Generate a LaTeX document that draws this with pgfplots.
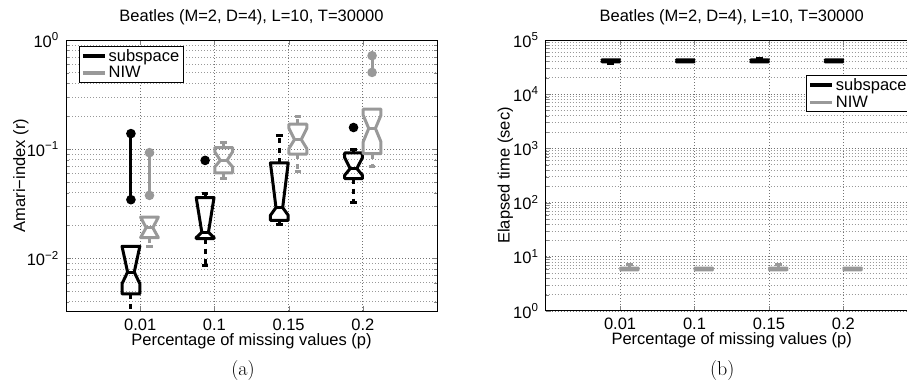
\documentclass[border=0pt]{standalone}
\usepackage{pgfplots}
\pgfplotsset{compat=1.18}
\usepackage{fontspec}
\newfontfamily\arial{Liberation Sans}
\newcommand\af{\arial\fontsize{16.5bp}{19.8bp}\selectfont}
\definecolor{niw}{gray}{0.6}
% notched box: #1 colour, #2 x, #3 q1, #4 notch low, #5 median, #6 notch high, #7 q3
\newcommand\nbox[7]{%
  \pgfmathsetmacro\bxL{#2-0.12}\pgfmathsetmacro\bxR{#2+0.12}%
  \pgfmathsetmacro\ntL{#2-0.045}\pgfmathsetmacro\ntR{#2+0.045}%
  \addplot[#1, line width=3bp, line join=round, line cap=round, forget plot] coordinates {(\bxL,#3) (\bxR,#3) (\bxR,#4) (\ntR,#5) (\bxR,#6) (\bxR,#7) (\bxL,#7) (\bxL,#6) (\ntL,#5) (\bxL,#4) (\bxL,#3)};
  \addplot[#1, line width=3bp, forget plot] coordinates {(\ntL,#5) (\ntR,#5)};
}
% whisker: #1 colour, #2 x, #3 from, #4 to
\newcommand\whisk[4]{%
  \pgfmathsetmacro\cpL{#2-0.045}\pgfmathsetmacro\cpR{#2+0.045}%
  \addplot[#1, line width=3bp, dash pattern=on 5bp off 5bp, forget plot] coordinates {(#2,#3) (#2,#4)};
  \addplot[#1, line width=3bp, forget plot] coordinates {(\cpL,#4) (\cpR,#4)};
}
% outliers: #1 colour, #2 coordinates
\newcommand\outl[2]{%
  \addplot[#1, line width=3bp, mark=*, mark size=3.2bp, mark options={solid}, forget plot] coordinates {#2};
}
\pgfplotsset{mystyle/.style={
  scale only axis, height=271bp,
  xmin=0, xmax=5,
  xtick={1,2,3,4}, xticklabels={0.01,0.1,0.15,0.2},
  tick align=inside, major tick length=5bp, minor tick length=3bp,
  axis line style={line width=1bp},
  tick label style={font=\af},
  xticklabel style={anchor=base, yshift=-19bp},
  yticklabel style={anchor=east, inner sep=0pt, xshift=-7bp},
  label style={font=\af},
  title style={font=\af, at={(0.5,1)}, anchor=base, yshift=12.5bp},
  xlabel style={at={(0.5,0)}, anchor=base, yshift=-34bp},
  legend image code/.code={\draw[##1] (0bp,0bp) -- (22bp,0bp);},
  legend style={font=\af, draw=black, line width=1bp, fill=white, inner xsep=2bp, inner ysep=1bp, row sep=0bp, cells={anchor=west}, anchor=north west},
  title={Beatles (M=2, D=4), L=10, T=30000},
  xlabel={Percentage of missing values (p)},
}}
\begin{document}
\begin{tikzpicture}
\path[use as bounding box] (0,0) rectangle (907bp,381bp);
\clip (0,0) rectangle (907bp,381bp);
% ---------------- (a)
\begin{axis}[ymode=log, log basis y=10, mystyle, at={(66bp,70bp)}, anchor=south west, width=371bp,
  xmajorgrids, ymajorgrids, yminorgrids,
  major grid style={dash pattern=on 1bp off 2bp, black!55, line width=0.8bp},
  minor grid style={dash pattern=on 1bp off 2bp, black!40, line width=0.8bp},
  ymin=0.0033, ymax=1,
  ytick={0.01,0.1,1}, yticklabels={10\textsuperscript{−2},10\textsuperscript{−1},10\textsuperscript{0}},
  minor ytick={0.004,0.005,0.006,0.007,0.008,0.009,0.02,0.03,0.04,0.05,0.06,0.07,0.08,0.09,0.2,0.3,0.4,0.5,0.6,0.7,0.8,0.9},
  ylabel={Amari−index (r)}, ylabel style={at={(-0.1105,0.5)}, anchor=base},
  legend style={at={(0.034,0.979)}}]
\addlegendimage{black, line width=3.5bp}\addlegendentry{subspace}
\addlegendimage{niw, line width=3.5bp}\addlegendentry{NIW}
% subspace (black)
\whisk{black}{0.875}{0.00474}{0.0031}
\nbox{black}{0.875}{0.00474}{0.00586}{0.0075}{0.0129}{0.0129}
\outl{black}{(0.875,0.0345) (0.875,0.139)}
\whisk{black}{1.875}{0.0152}{0.0086}
\whisk{black}{1.875}{0.036}{0.0397}
\nbox{black}{1.875}{0.0152}{0.0155}{0.0174}{0.036}{0.036}
\outl{black}{(1.875,0.079)}
\whisk{black}{2.875}{0.0223}{0.0204}
\whisk{black}{2.875}{0.075}{0.134}
\nbox{black}{2.875}{0.0223}{0.0248}{0.0292}{0.075}{0.075}
\whisk{black}{3.875}{0.0538}{0.0322}
\whisk{black}{3.875}{0.0925}{0.1}
\nbox{black}{3.875}{0.0538}{0.0577}{0.0665}{0.0839}{0.0925}
\outl{black}{(3.875,0.158)}
% NIW (grey)
\whisk{niw}{1.125}{0.0155}{0.0129}
\nbox{niw}{1.125}{0.0155}{0.0155}{0.0191}{0.0239}{0.0239}
\outl{niw}{(1.125,0.0378) (1.125,0.093)}
\whisk{niw}{2.125}{0.0607}{0.0538}
\whisk{niw}{2.125}{0.1035}{0.114}
\nbox{niw}{2.125}{0.0607}{0.0688}{0.079}{0.0946}{0.1035}
\whisk{niw}{3.125}{0.090}{0.062}
\whisk{niw}{3.125}{0.1695}{0.200}
\nbox{niw}{3.125}{0.090}{0.1015}{0.1227}{0.155}{0.1695}
\whisk{niw}{4.125}{0.0912}{0.0689}
\nbox{niw}{4.125}{0.0912}{0.1167}{0.155}{0.205}{0.233}
\outl{niw}{(4.125,0.505) (4.125,0.718)}
\end{axis}
% ---------------- (b)
\begin{axis}[ymode=log, log basis y=10, mystyle, at={(545.7bp,70bp)}, anchor=south west, width=372bp,
  xmajorgrids, ymajorgrids, yminorgrids,
  major grid style={dash pattern=on 1bp off 2bp, black!55, line width=0.8bp},
  minor grid style={dash pattern=on 1bp off 2bp, black!40, line width=0.8bp},
  ymin=1, ymax=100000,
  ytick={1,10,100,1000,10000,100000},
  yticklabels={10\textsuperscript{0},10\textsuperscript{1},10\textsuperscript{2},10\textsuperscript{3},10\textsuperscript{4},10\textsuperscript{5}},
  minor ytick={2,3,4,5,6,7,8,9,20,30,40,50,60,70,80,90,200,300,400,500,600,700,800,900,2000,3000,4000,5000,6000,7000,8000,9000,20000,30000,40000,50000,60000,70000,80000,90000},
  ylabel={Elapsed time (sec)}, ylabel style={at={(-0.0968,0.5)}, anchor=base},
  legend style={at={(0.6997,0.871)}}]
\addlegendimage{black, line width=3.5bp}\addlegendentry{subspace}
\addlegendimage{niw, line width=3.5bp}\addlegendentry{NIW}
\whisk{black}{0.875}{39500}{37500}
\nbox{black}{0.875}{39500}{39500}{41200}{43000}{43000}
\nbox{black}{1.875}{39500}{39500}{41200}{43000}{43000}
\whisk{black}{2.875}{43000}{46000}
\nbox{black}{2.875}{39500}{39500}{41200}{43000}{43000}
\nbox{black}{3.875}{39500}{39500}{41200}{43000}{43000}
\whisk{niw}{1.125}{6.2}{7.2}
\nbox{niw}{1.125}{5.75}{5.75}{5.95}{6.2}{6.2}
\nbox{niw}{2.125}{5.75}{5.75}{5.95}{6.2}{6.2}
\whisk{niw}{3.125}{6.2}{7.2}
\nbox{niw}{3.125}{5.75}{5.75}{5.95}{6.2}{6.2}
\nbox{niw}{4.125}{5.75}{5.75}{5.95}{6.2}{6.2}
\end{axis}
\node[anchor=base] at (243bp,5.5bp) {\fontsize{20bp}{22bp}\selectfont (a)};
\node[anchor=base] at (722.3bp,5.5bp) {\fontsize{20bp}{22bp}\selectfont (b)};
\end{tikzpicture}
\end{document}
